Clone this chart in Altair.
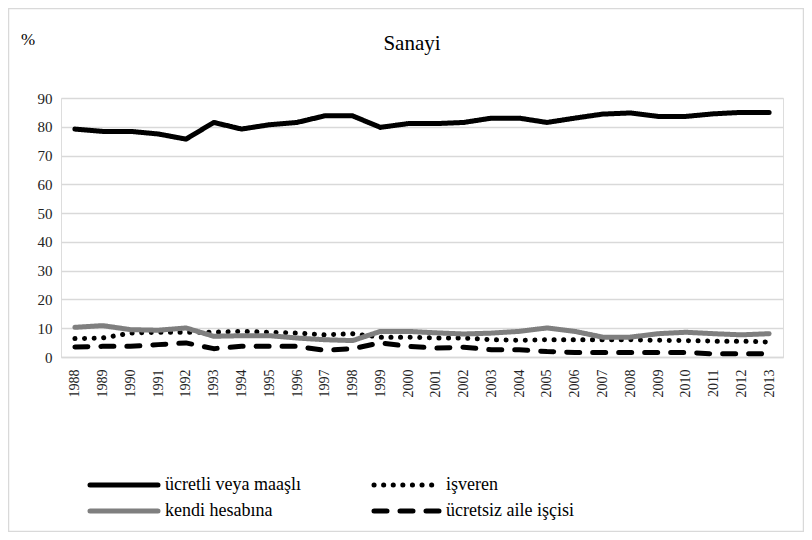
import altair as alt
import pandas as pd

years = [str(y) for y in range(1988, 2014)]
series_names = ["ücretli veya maaşlı", "işveren", "kendi hesabına", "ücretsiz aile işçisi"]

ucretli = [79.2, 78.4, 78.4, 77.5, 75.7, 81.5, 79.2, 80.7, 81.5, 83.8, 83.8, 79.8, 81.1,
           81.1, 81.5, 83.0, 83.0, 81.5, 83.0, 84.4, 84.8, 83.6, 83.6, 84.5, 85.0, 85.0]
isveren = [6.4, 6.6, 8.3, 8.6, 8.6, 8.6, 8.9, 8.6, 8.3, 7.7, 8.1, 6.9, 6.9,
           6.6, 6.6, 6.0, 5.8, 6.0, 6.0, 6.0, 6.0, 5.8, 5.7, 5.5, 5.5, 5.2]
kendi = [10.3, 10.9, 9.5, 9.3, 10.1, 7.2, 7.4, 7.4, 6.6, 6.0, 5.7, 8.9, 8.9,
         8.4, 8.0, 8.3, 8.9, 10.1, 8.9, 6.9, 6.9, 8.1, 8.6, 8.1, 7.7, 8.1]
ucretsiz = [3.5, 3.7, 3.7, 4.3, 4.9, 2.9, 3.7, 3.7, 3.7, 2.3, 2.9, 4.9, 3.7,
            3.1, 3.4, 2.5, 2.5, 1.9, 1.6, 1.6, 1.6, 1.6, 1.6, 1.1, 1.1, 1.1]

rows = []
for name, vals in zip(series_names, [ucretli, isveren, kendi, ucretsiz]):
    for y, v in zip(years, vals):
        rows.append({"yil": y, "seri": name, "deger": v})
df = pd.DataFrame(rows)

FONT = "Liberation Serif, Times New Roman, DejaVu Serif, serif"

color_scale = alt.Scale(domain=series_names, range=["#000000", "#000000", "#7f7f7f", "#000000"])
dash_scale = alt.Scale(domain=series_names, range=[[1, 0], [0.1, 9.5], [1, 0], [13, 13]])

lines = alt.Chart(df).mark_line(strokeWidth=5, strokeCap="round", strokeJoin="round").encode(
    x=alt.X("yil:O", sort=years, scale=alt.Scale(type="point", padding=0.5),
            axis=alt.Axis(title=None, labelAngle=270, labelFontSize=14, labelFont=FONT,
                          labelColor="#222", ticks=False, domain=True, domainColor="#d9d9d9",
                          domainWidth=1.5, labelPadding=12, grid=False)),
    y=alt.Y("deger:Q", scale=alt.Scale(domain=[0, 90], nice=False),
            axis=alt.Axis(values=list(range(0, 100, 10)), title=None,
                          labelFont=FONT, labelFontSize=15, labelColor="#222",
                          labelPadding=9, ticks=False, domain=False,
                          grid=True, gridColor="#d9d9d9", gridWidth=1.5)),
    color=alt.Color("seri:N", scale=color_scale, legend=None),
    strokeDash=alt.StrokeDash("seri:N", scale=dash_scale, legend=None),
    order=alt.Order("yil:O"),
)

# legend layout (pixel positions relative to plot origin)
leg = pd.DataFrame({
    "seri": series_names,
    "x0": [29, 313, 29, 313],
    "x1": [97, 378, 97, 378],
    "ly": [387, 387, 413, 413],
})
leg["tx"] = leg["x1"] + 7

leg_rules = alt.Chart(leg).mark_rule(strokeWidth=5, strokeCap="round").encode(
    x=alt.X("x0:Q", scale=None, axis=None), x2="x1:Q",
    y=alt.Y("ly:Q", scale=None, axis=None),
    color=alt.Color("seri:N", scale=color_scale, legend=None),
    strokeDash=alt.StrokeDash("seri:N", scale=dash_scale, legend=None),
)
leg_text = alt.Chart(leg).mark_text(align="left", baseline="middle", font=FONT,
                                    fontSize=18, color="#000").encode(
    x=alt.X("tx:Q", scale=None, axis=None),
    y=alt.Y("ly:Q", scale=None, axis=None),
    text="seri:N",
)

titles = pd.DataFrame({"t": ["Sanayi", "%"], "tx": [351, -33], "ty": [-54, -58],
                       "fs": [21, 17]})
title_text = alt.Chart(titles).mark_text(align="center", baseline="middle", font=FONT,
                                         color="#000").encode(
    x=alt.X("tx:Q", scale=None, axis=None),
    y=alt.Y("ty:Q", scale=None, axis=None),
    text="t:N",
    size=alt.Size("fs:Q", scale=None, legend=None),
)

border = alt.Chart(pd.DataFrame({"a": [0]})).mark_rect(
    fill="white", fillOpacity=0, stroke="#d9d9d9", strokeWidth=1.5
).encode(x=alt.value(-52.5), x2=alt.value(742.5), y=alt.value(-89.5), y2=alt.value(433.5))

chart = alt.layer(border, lines, leg_rules, leg_text, title_text).resolve_scale(
    x="independent", y="independent"
).properties(
    width=722, height=259,
    autosize=alt.AutoSizeParams(type="none"),
    padding={"left": 53, "top": 90, "right": 21, "bottom": 175},
).configure_view(stroke=None).configure(background="white")

chart.save("out.html", embed_options={"renderer": "svg", "actions": False})
